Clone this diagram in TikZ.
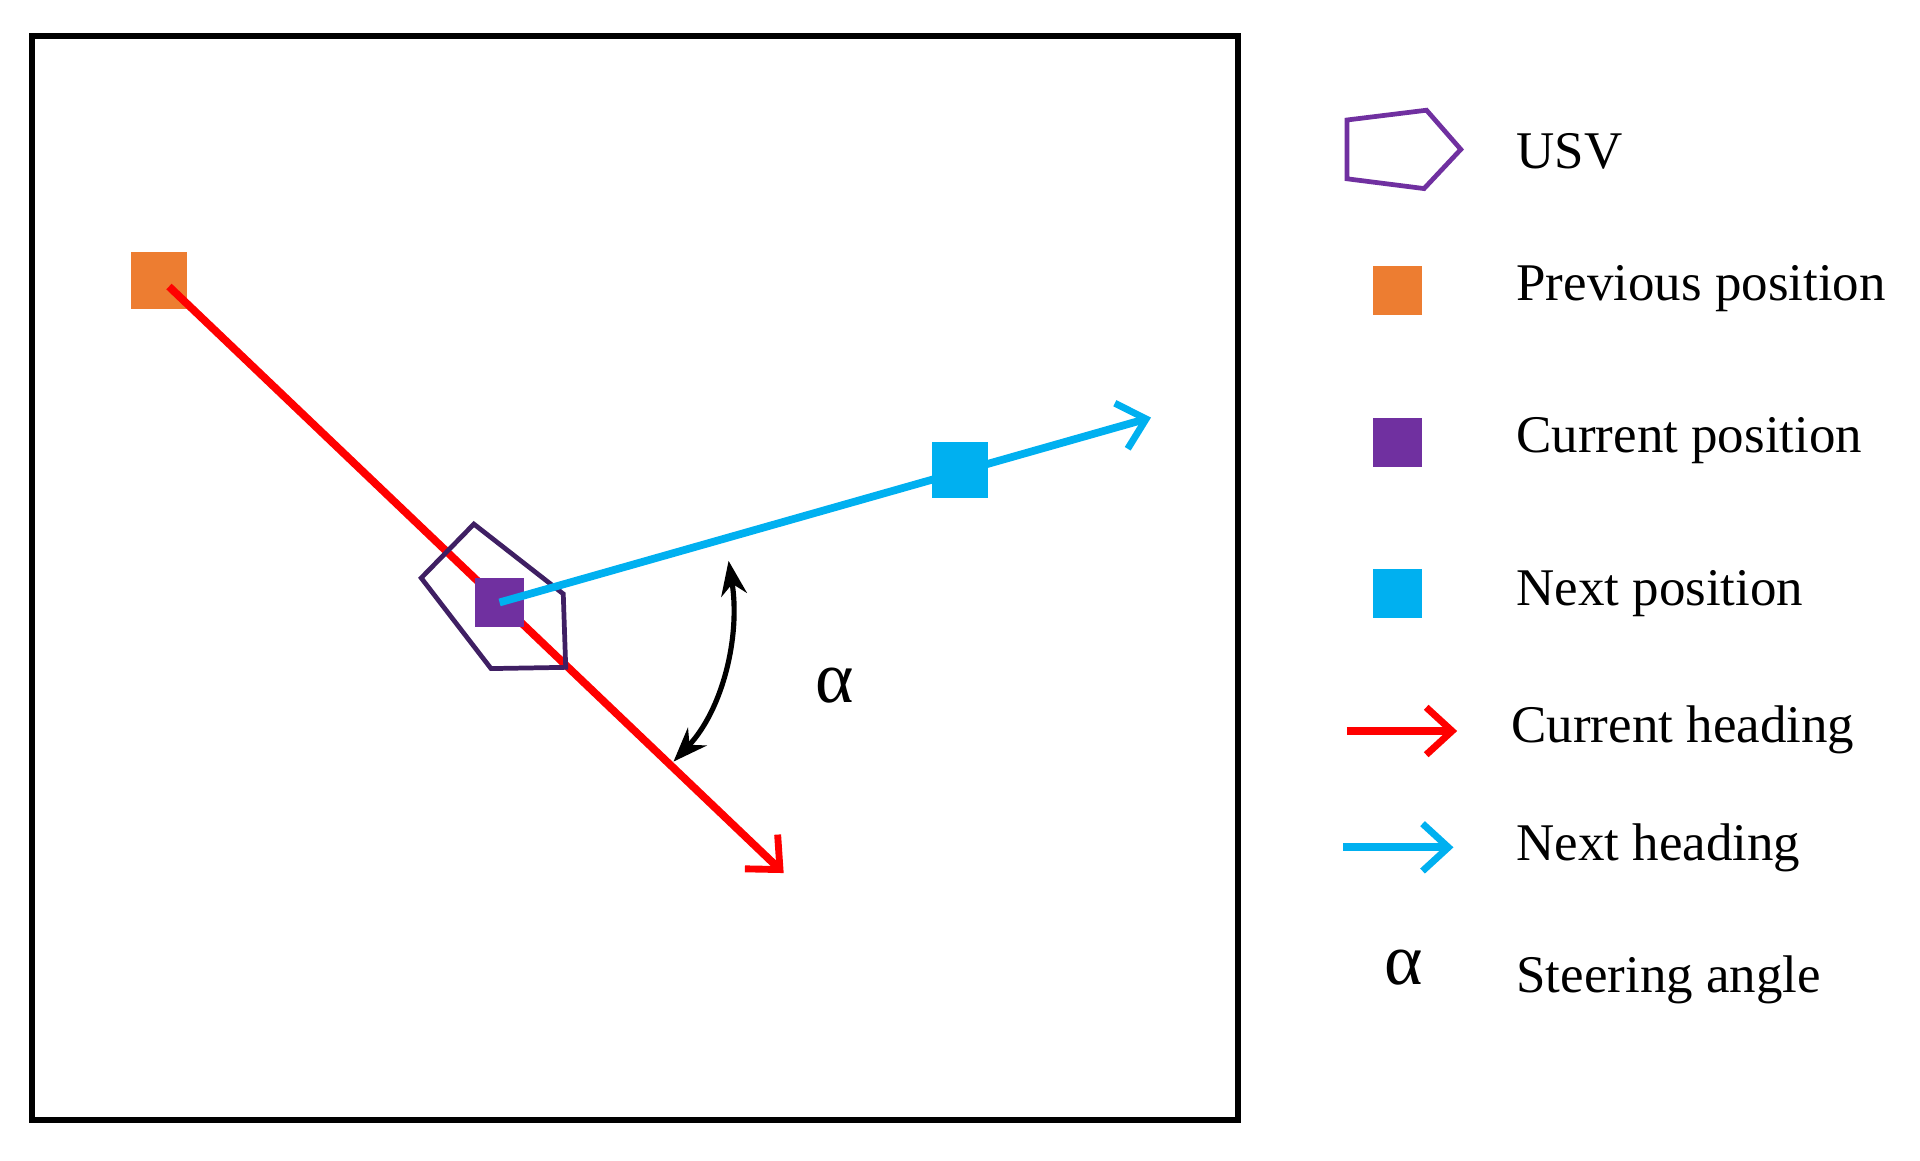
\documentclass[tikz,border=0pt]{standalone}
\usepackage{fontspec}
\setmainfont{Liberation Serif}
\usetikzlibrary{arrows.meta}
\definecolor{prevc}{HTML}{ED7D31}
\definecolor{curc}{HTML}{7030A0}
\definecolor{nextc}{HTML}{00B0F0}
\definecolor{usvc}{HTML}{3F1F63}
\tikzset{
  spot/.style={draw=none,inner sep=0pt},
  head/.style={line width=1.8pt,-{Straight Barb[length=6pt,width=11pt,line width=1.6pt]}},
  lbl/.style={anchor=west,font=\fontsize{12.3}{14}\selectfont},
  greek/.style={font=\fontsize{17}{20}\selectfont},
}
\begin{document}
\begin{tikzpicture}[x=0.01cm,y=-0.01cm]
            \useasboundingbox (0,0) rectangle (1568,948);
            \draw[line width=1.4pt] (26,29) rectangle (1011,915);

            \node[spot,fill=prevc,minimum size=0.46cm] (prev) at (130,229) {};
            \coordinate (redend) at (640,713);
            \draw[head,red] (138,234) -- (redend);

            \draw[usvc,line width=1.1pt] (387,428) -- (460,485) -- (462,545) -- (401,546) -- (344,472) -- cycle;
            \node[spot,fill=curc,minimum size=0.4cm] (cur) at (408,492) {};
            \coordinate (blueend) at (940,341);
            \draw[head,nextc] (cur.center) -- (blueend);
            \node[spot,fill=nextc,minimum size=0.46cm] (next) at (784,384) {};

            \coordinate (angA) at (595,458);
            \coordinate (angB) at (550,622);
            \draw[line width=1.2pt,{Stealth[length=8pt]}-{Stealth[length=8pt]}] (angA)
                .. controls (605,520) and (590,580) .. (angB);
            \node[greek] (alpha) at (682,560) {α};

            % legend
            \draw[curc,line width=1.1pt] (1100,98) -- (1165,90) -- (1193,122) -- (1163,154) -- (1100,146) -- cycle;
            \node[spot,fill=prevc,minimum size=0.4cm] (kprev) at (1141,237) {};
            \node[spot,fill=curc,minimum size=0.4cm] (kcur) at (1141,361) {};
            \node[spot,fill=nextc,minimum size=0.4cm] (knext) at (1141,485) {};
            \coordinate (kr1) at (1100,597); \coordinate (kr2) at (1190,597);
            \draw[head,red] (kr1) -- (kr2);
            \coordinate (kb1) at (1097,692); \coordinate (kb2) at (1187,692);
            \draw[head,nextc] (kb1) -- (kb2);
            \node[greek] (kalpha) at (1146,790) {α};

            \node[lbl] (t1) at (1226,124) {USV};
            \node[lbl] (t2) at (1226,236) {Previous position};
            \node[lbl] (t3) at (1226,360) {Current position};
            \node[lbl] (t4) at (1226,485) {Next position};
            \node[lbl] (t5) at (1222,596) {Current heading};
            \node[lbl] (t6) at (1226,692) {Next heading};
            \node[lbl] (t7) at (1226,800) {Steering angle};
\end{tikzpicture}
\end{document}
